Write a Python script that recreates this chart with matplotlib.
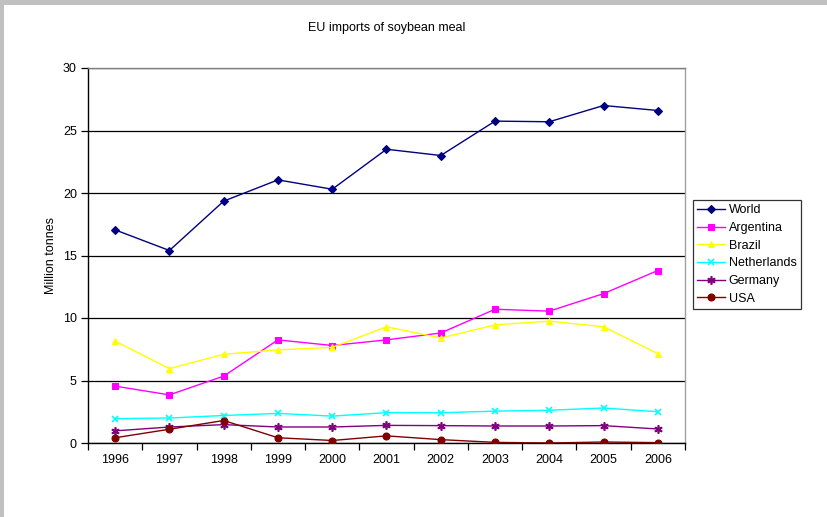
import matplotlib
matplotlib.use("Agg")
import matplotlib.pyplot as plt
from matplotlib.patches import Rectangle
from matplotlib.ticker import FixedLocator, NullFormatter

years = ["1996", "1997", "1998", "1999", "2000", "2001", "2002", "2003", "2004", "2005", "2006"]
world = [17.05, 15.4, 19.35, 21.05, 20.3, 23.5, 23.0, 25.75, 25.7, 27.0, 26.6]
argentina = [4.55, 3.85, 5.35, 8.25, 7.8, 8.25, 8.8, 10.7, 10.55, 11.95, 13.8]
brazil = [8.15, 5.95, 7.1, 7.45, 7.65, 9.3, 8.4, 9.45, 9.75, 9.3, 7.15]
netherlands = [1.95, 2.0, 2.2, 2.37, 2.15, 2.43, 2.42, 2.55, 2.62, 2.8, 2.5]
germany = [0.97, 1.28, 1.47, 1.28, 1.28, 1.41, 1.39, 1.36, 1.36, 1.39, 1.12]
usa = [0.42, 1.1, 1.8, 0.42, 0.2, 0.57, 0.27, 0.05, 0.0, 0.08, 0.03]

series = [
    ("World", world, "#000080", "D", 4),
    ("Argentina", argentina, "#FF00FF", "s", 5),
    ("Brazil", brazil, "#FFFF00", "^", 5),
    ("Netherlands", netherlands, "#00FFFF", "x", 5),
    ("Germany", germany, "#800080", (6, 2, 0), 6),
    ("USA", usa, "#800000", "o", 5),
]

plt.rcParams['font.family'] = ['Liberation Sans', 'DejaVu Sans']

fig = plt.figure(figsize=(8.28, 5.17), dpi=100)
fig.patch.set_facecolor("white")
# gray frame on top and left
fig.patches.append(Rectangle((0, 1 - 5/517), 1, 5/517, transform=fig.transFigure,
                             facecolor="#C0C0C0", edgecolor="none", zorder=0))
fig.patches.append(Rectangle((0, 0), 4/828, 1, transform=fig.transFigure,
                             facecolor="#C0C0C0", edgecolor="none", zorder=0))

W, H = 828, 517
left, right, top, bottom = 88, 685, 68, 443
ax = fig.add_axes([left / W, 1 - bottom / H, (right - left) / W, (bottom - top) / H])

x = list(range(len(years)))
for name, vals, col, mk, ms in series:
    ax.plot(x, vals, color=col, marker=mk, markersize=ms, linewidth=1.0,
            markerfacecolor=col, markeredgecolor=col,
            markeredgewidth=1.2 if mk in ("x", (6, 2, 0)) else 0.8,
            label=name, zorder=3)

ax.set_xlim(-0.5, len(years) - 0.5)
ax.set_ylim(0, 30)
ax.set_yticks([0, 5, 10, 15, 20, 25, 30])
ax.yaxis.grid(True, color="black", linewidth=0.9)
ax.set_axisbelow(True)

ax.set_xticks(x)
ax.set_xticklabels(years, fontsize=9)
ax.tick_params(axis="x", which="major", length=0, pad=8)
ax.xaxis.set_minor_locator(FixedLocator([i - 0.5 for i in range(len(years) + 1)]))
ax.xaxis.set_minor_formatter(NullFormatter())
ax.tick_params(axis="x", which="minor", length=5, direction="out", color="black", width=0.9)
ax.tick_params(axis="y", length=5, direction="out", labelsize=9, color="black", width=0.9, pad=3)

ax.spines["left"].set_color("black")
ax.spines["bottom"].set_color("black")
ax.spines["top"].set_color("#808080")
ax.spines["right"].set_color("#A0A0A0")
for s in ax.spines.values():
    s.set_linewidth(1.0)

ax.set_ylabel("Million tonnes", fontsize=9, labelpad=4)
fig.text((left + right) / 2 / W, 1 - 28 / H, "EU imports of soybean meal", ha="center", va="center", fontsize=9)

leg = ax.legend(loc="upper left", bbox_to_anchor=((693 - left) / (right - left), (bottom - 200) / (bottom - top)),
                bbox_transform=ax.transAxes, frameon=True, fancybox=False, fontsize=9,
                borderaxespad=0, handlelength=2.2, handletextpad=0.3, labelspacing=0.45,
                borderpad=0.35)
leg.get_frame().set_edgecolor("black")
leg.get_frame().set_linewidth(0.9)
leg.set_clip_on(False)

fig.savefig("out.png", dpi=100, facecolor="white")
